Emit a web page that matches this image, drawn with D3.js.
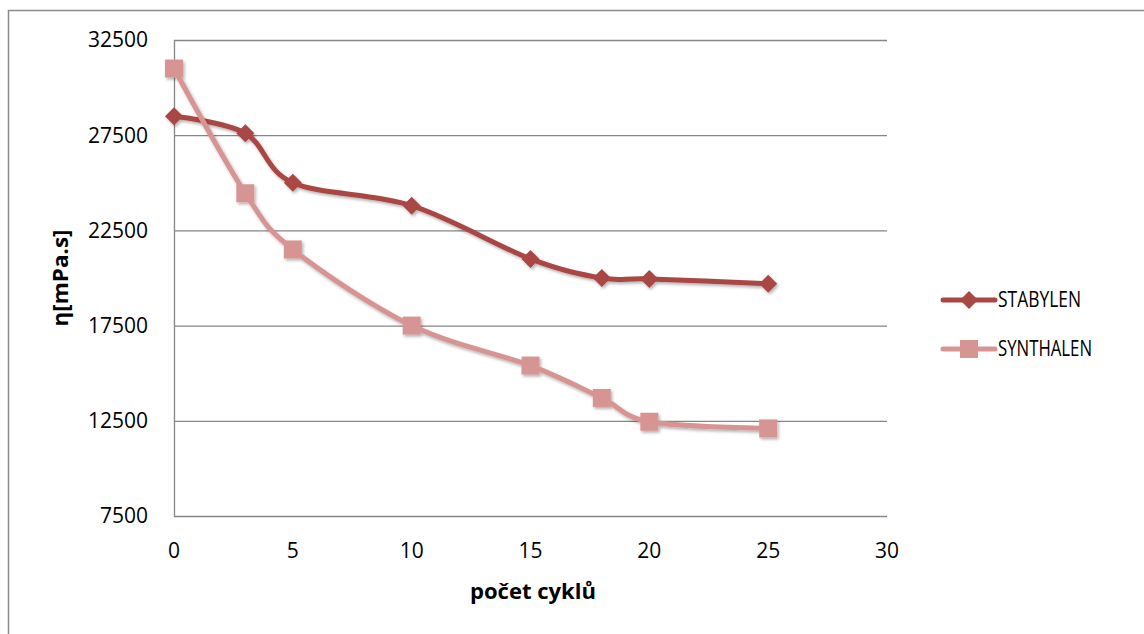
<!DOCTYPE html>
<html><head><meta charset="utf-8">
<script src="https://cdn.jsdelivr.net/npm/d3@7"></script>
<style>body{margin:0;background:#fff;} text{font-family:"Open Sans","Liberation Sans",sans-serif;}</style>
</head><body><svg id="c" width="1144" height="634"></svg>
<script>
const cycles = [0, 3, 5, 10, 15, 18, 20, 25];
const stabylen = [28500, 27600, 25000, 23800, 21000, 20000, 19950, 19700];
const synthalen = [31000, 24450, 21500, 17500, 15400, 13700, 12450, 12100];
const seriesNames = ["STABYLEN", "SYNTHALEN"];
const xTicks = [0, 5, 10, 15, 20, 25, 30];
const yTicks = [7500, 12500, 17500, 22500, 27500, 32500];

const svg = d3.select("#c");
const colors = ["#A94744", "#D69593"];
const x = d3.scaleLinear().domain([0, 30]).range([174, 887]);
const y = d3.scaleLinear().domain([7500, 32500]).range([516, 40]);

// outer border
svg.append("path").attr("d", "M8.5,634 V10.5 H1144").attr("fill", "none").attr("stroke", "#8c8c8c").attr("stroke-width", 1.5);

const defs = svg.append("defs");
const f = defs.append("filter").attr("id", "sh").attr("x", "-20%").attr("y", "-20%").attr("width", "140%").attr("height", "140%");
f.append("feDropShadow").attr("dx", 1.5).attr("dy", 2).attr("stdDeviation", 1.5).attr("flood-color", "#000").attr("flood-opacity", 0.3);

// gridlines
svg.append("g").selectAll("line").data(yTicks).join("line")
  .attr("x1", x(0)).attr("x2", x(30)).attr("y1", d => y(d) + 0.5).attr("y2", d => y(d) + 0.5)
  .attr("stroke", "#868686").attr("stroke-width", 1.3);
svg.append("line").attr("x1", x(0) + 0.5).attr("x2", x(0) + 0.5).attr("y1", y(32500)).attr("y2", y(7500) + 1)
  .attr("stroke", "#868686").attr("stroke-width", 1.3);

const FS = 21;
// tick labels
svg.append("g").selectAll("text").data(yTicks).join("text")
  .attr("x", 148).attr("y", d => y(d)).attr("dy", "0.35em").attr("text-anchor", "end")
  .attr("font-size", FS).attr("fill", "#000").text(d => d);
svg.append("g").selectAll("text").data(xTicks).join("text")
  .attr("x", d => x(d)).attr("y", 551).attr("dy", "0.35em").attr("text-anchor", "middle")
  .attr("font-size", FS).attr("fill", "#000").text(d => d);

// axis titles
svg.append("text").attr("x", 533).attr("y", 592).attr("dy", "0.35em").attr("text-anchor", "middle")
  .attr("font-size", FS).attr("font-weight", "bold").attr("textLength", 126).attr("lengthAdjust", "spacingAndGlyphs").text("počet cyklů");
svg.append("text").attr("transform", "translate(61,278) rotate(-90)").attr("dy", "0.35em").attr("text-anchor", "middle")
  .attr("font-size", FS).attr("font-weight", "bold").attr("textLength", 97).attr("lengthAdjust", "spacingAndGlyphs").text("η[mPa.s]");

const line = d3.line().x(d => x(d[0])).y(d => y(d[1])).curve(d3.curveCatmullRom.alpha(0));
const all = [stabylen, synthalen];
const diamond = "M0,-9L9,0L0,9L-9,0Z";
const square = "M-9,-9H9V9H-9Z";
const sym = [diamond, square];

all.forEach((vals, i) => {
  const pts = cycles.map((c, j) => [c, vals[j]]);
  const g = svg.append("g").attr("filter", "url(#sh)");
  g.append("path").attr("d", line(pts)).attr("fill", "none").attr("stroke", colors[i]).attr("stroke-width", 5).attr("stroke-linecap", "round");
  g.selectAll("path.m").data(pts).join("path").attr("class", "m")
    .attr("transform", d => `translate(${x(d[0])},${y(d[1])})`)
    .attr("d", sym[i]).attr("fill", colors[i]);
});

// legend
seriesNames.forEach((n, i) => {
  const ly = 300 + i * 49;
  const g = svg.append("g");
  g.append("line").attr("x1", 943).attr("x2", 995).attr("y1", ly).attr("y2", ly).attr("stroke", colors[i]).attr("stroke-width", 5).attr("stroke-linecap", "round");
  g.append("path").attr("transform", `translate(969,${ly})`).attr("d", sym[i]).attr("fill", colors[i]);
  g.append("text").attr("x", 998).attr("y", ly).attr("dy", "0.35em").attr("font-size", FS)
    .attr("textLength", i === 0 ? 83 : 94).attr("lengthAdjust", "spacingAndGlyphs").text(n);
});
</script></body></html>
